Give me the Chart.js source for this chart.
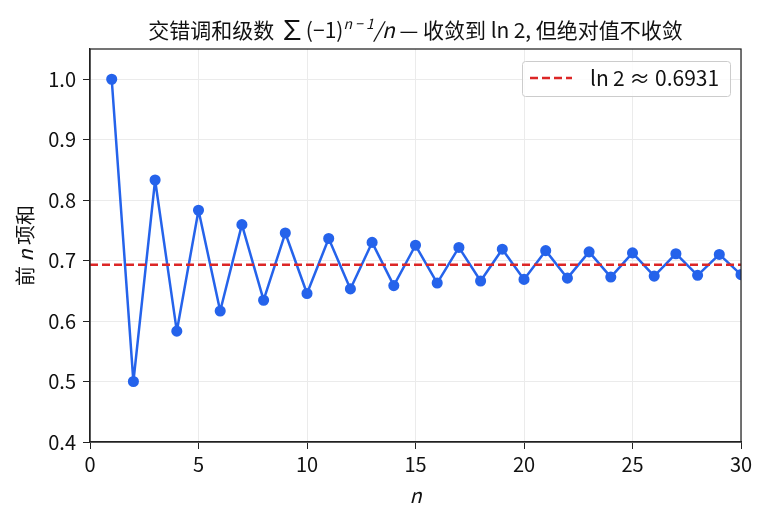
<!DOCTYPE html>
<html>
<head>
<meta charset="utf-8">
<script src="https://cdn.jsdelivr.net/npm/chart.js@4"></script>
<style>
  html, body { margin: 0; padding: 0; background: #fff; }
  #wrap { width: 767px; height: 524px; }
</style>
</head>
<body>
<div id="wrap"><canvas id="seriesChart" width="767" height="524"></canvas></div>
<script>
// partial sums S_n of the alternating harmonic series
const nValues = [1, 2, 3, 4, 5, 6, 7, 8, 9, 10, 11, 12, 13, 14, 15,
                 16, 17, 18, 19, 20, 21, 22, 23, 24, 25, 26, 27, 28, 29, 30];
const partialSums = [1.0, 0.5, 0.8333, 0.5833, 0.7833, 0.6167, 0.7595, 0.6345, 0.7456, 0.6456,
                     0.7365, 0.6532, 0.7301, 0.6587, 0.7254, 0.6629, 0.7218, 0.6663, 0.7189, 0.6689,
                     0.7165, 0.6710, 0.7145, 0.6728, 0.7128, 0.6744, 0.7114, 0.6757, 0.7102, 0.6768];
const ln2Value = 0.6931;
const ln2Span = [0, 30];
const xTicks = [0, 5, 10, 15, 20, 25, 30];
const yTicks = [0.4, 0.5, 0.6, 0.7, 0.8, 0.9, 1.0];
const legendText = 'ln\u20092 \u2248 0.6931';

const FONT = '"Noto Sans CJK SC", "Noto Sans", sans-serif';
const BLUE = '#2563eb';
const RED = '#dc2626';

// draws title, axis labels, frame and legend
const decorations = {
    id: 'decorations',
    afterDraw(chart) {
        const ctx = chart.ctx;
        const area = chart.chartArea;
        ctx.save();

        // frame (top and right spines)
        ctx.strokeStyle = '#222';
        ctx.lineWidth = 1.25;
        ctx.strokeRect(area.left, area.top, area.right - area.left, area.bottom - area.top);

        // title with mixed runs
        const runs = [
            { t: '交错调和级数 ', f: '21px ' + FONT, dy: 0 },
            { t: '\u2211', f: '27px ' + FONT, dy: 2 },
            { t: '(\u22121)', f: '21px ' + FONT, dy: 0 },
            { t: 'n \u2212 1', f: 'italic 14px ' + FONT, dy: -9 },
            { t: '/', f: 'italic 21px ' + FONT, dy: 0 },
            { t: 'n', f: 'italic 21px ' + FONT, dy: 0 },
            { t: ' \u2014 收敛到 ln\u20092, 但绝对值不收敛', f: '21px ' + FONT, dy: 0 }
        ];
        let total = 0;
        runs.forEach(r => { ctx.font = r.f; r.w = ctx.measureText(r.t).width; total += r.w; });
        let x = (area.left + area.right) / 2 - total / 2;
        ctx.fillStyle = '#111';
        ctx.textBaseline = 'alphabetic';
        ctx.textAlign = 'left';
        runs.forEach(r => {
            ctx.font = r.f;
            ctx.fillText(r.t, x, 38 + r.dy);
            x += r.w;
        });

        // x axis label
        ctx.font = 'italic 20px ' + FONT;
        ctx.textAlign = 'center';
        ctx.fillText('n', (area.left + area.right) / 2, 503);

        // y axis label (rotated)
        ctx.save();
        ctx.translate(25, (area.top + area.bottom) / 2);
        ctx.rotate(-Math.PI / 2);
        const yRuns = [
            { t: '前 ', f: '20px ' + FONT },
            { t: 'n', f: 'italic 20px ' + FONT },
            { t: ' 项和', f: '20px ' + FONT }
        ];
        let yw = 0;
        yRuns.forEach(r => { ctx.font = r.f; r.w = ctx.measureText(r.t).width; yw += r.w; });
        let yx = -yw / 2;
        ctx.textAlign = 'left';
        ctx.textBaseline = 'middle';
        yRuns.forEach(r => { ctx.font = r.f; ctx.fillText(r.t, yx, 0); yx += r.w; });
        ctx.restore();

        // legend
        const lx = 522, ly = 61, lw = 208, lh = 35;
        ctx.fillStyle = 'rgba(255,255,255,0.85)';
        ctx.strokeStyle = '#cccccc';
        ctx.lineWidth = 1;
        ctx.beginPath();
        ctx.roundRect(lx + 0.5, ly + 0.5, lw, lh, 3);
        ctx.fill();
        ctx.stroke();
        ctx.strokeStyle = RED;
        ctx.lineWidth = 2.4;
        ctx.setLineDash([8, 4]);
        ctx.beginPath();
        ctx.moveTo(530, 78);
        ctx.lineTo(572, 78);
        ctx.stroke();
        ctx.setLineDash([]);
        ctx.fillStyle = '#111';
        ctx.font = '21px ' + FONT;
        ctx.textAlign = 'left';
        ctx.textBaseline = 'middle';
        ctx.fillText(legendText, 590, 78);

        ctx.restore();
    }
};

const ctx = document.getElementById('seriesChart').getContext('2d');
const seriesChart = new Chart(ctx, {
    type: 'line',
    data: {
        datasets: [{
            label: 'S_n',
            data: nValues.map((n, i) => ({ x: n, y: partialSums[i] })),
            borderColor: BLUE,
            backgroundColor: BLUE,
            borderWidth: 2.5,
            borderJoinStyle: 'round',
            borderCapStyle: 'round',
            pointRadius: 4.3,
            pointHoverRadius: 4.3,
            tension: 0,
            order: 2
        }, {
            label: legendText,
            data: ln2Span.map(x => ({ x: x, y: ln2Value })),
            borderColor: RED,
            borderWidth: 2.4,
            borderDash: [8, 4],
            pointRadius: 0,
            order: 1
        }]
    },
    options: {
        responsive: false,
        animation: false,
        layout: { padding: { left: 0, right: 26, top: 49, bottom: 0 } },
        plugins: {
            legend: { display: false },
            title: { display: false },
            tooltip: { enabled: false }
        },
        scales: {
            x: {
                type: 'linear',
                min: 0,
                max: 30,
                afterFit(scale) { scale.height = 82; },
                afterBuildTicks(scale) {
                    scale.ticks = xTicks.map(v => ({ value: v }));
                },
                grid: { color: '#ebebeb', tickColor: '#222', tickLength: 7, lineWidth: 1 },
                border: { color: '#222', width: 1.25 },
                ticks: { color: '#111', font: { family: FONT, size: 20 }, padding: 3, maxRotation: 0 }
            },
            y: {
                type: 'linear',
                min: 0.4,
                max: 1.05,
                afterFit(scale) { scale.width = 90; },
                afterBuildTicks(scale) {
                    scale.ticks = yTicks.map(v => ({ value: v }));
                },
                grid: { color: '#ebebeb', tickColor: '#222', tickLength: 7, lineWidth: 1 },
                border: { color: '#222', width: 1.25 },
                ticks: {
                    color: '#111',
                    font: { family: FONT, size: 20 },
                    padding: 7,
                    callback: v => v.toFixed(1)
                }
            }
        }
    },
    plugins: [decorations]
});
</script>
</body>
</html>
